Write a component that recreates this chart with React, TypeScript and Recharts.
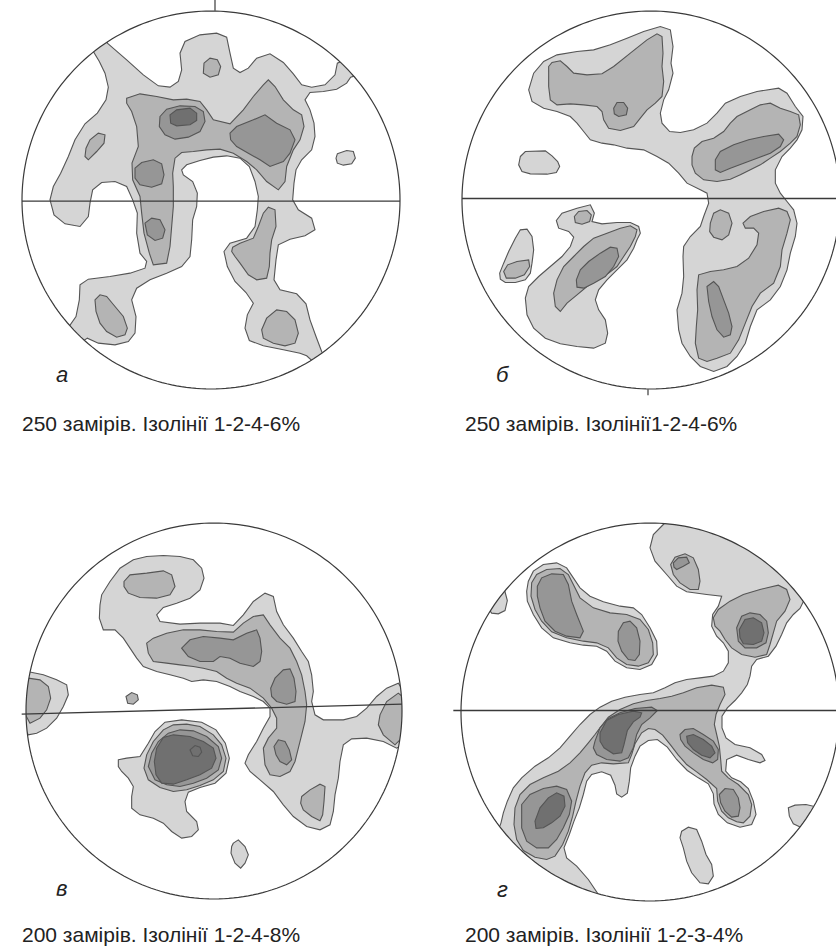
import { ScatterChart, Scatter, XAxis, YAxis } from "recharts";

// Contours traced in digitizer units (3 units = 1 px), y grows downward.
// Each panel keeps its own net centre and radius in the same units.

const NET_A = { cx: 633, cy: 600.5, r: 567 };
const NET_B = { cx: 692, cy: 600.5, r: 567 };
const NET_C = { cx: 642, cy: 588.5, r: 564 };
const NET_D = { cx: 690, cy: 592.5, r: 567 };

// ---- panel а ----
const A_LIGHT = [
  [322,130, 380,180, 430,225, 475,258, 510,262, 535,245, 545,210, 540,160, 555,125, 600,105, 650,100, 680,112, 690,160, 700,205, 720,218, 745,205, 770,175, 810,162, 850,188, 880,222, 905,255, 935,262, 975,255, 1005,225, 1012,190, 1045,175, 1075,225, 1052,232, 1040,250, 1010,268, 970,275, 930,278, 915,300, 930,330, 942,370, 945,410, 935,450, 905,480, 888,510, 882,550, 878,600, 895,630, 935,655, 945,690, 915,708, 870,718, 835,735, 828,780, 822,840, 840,870, 890,882, 918,912, 930,960, 948,1010, 965,1055, 985,1095, 950,1095, 920,1068, 900,1060, 850,1050, 790,1038, 748,1022, 735,985, 742,945, 760,910, 738,878, 705,845, 682,800, 672,755, 690,730, 740,715, 765,680, 772,630, 775,590, 765,545, 748,500, 720,475, 680,468, 640,472, 600,482, 560,495, 545,510, 550,525, 578,545, 592,580, 590,620, 578,660, 575,720, 570,770, 545,800, 500,820, 450,840, 410,865, 395,900, 408,950, 405,1000, 385,1025, 345,1035, 295,1030, 262,1015, 240,1030, 200,990, 228,950, 238,900, 240,855, 265,838, 330,830, 390,820, 435,805, 440,785, 420,760, 410,700, 412,640, 398,600, 380,560, 345,545, 305,548, 278,570, 270,610, 265,650, 240,680, 195,672, 162,645, 150,600, 160,560, 182,520, 205,470, 225,420, 255,372, 292,340, 318,300, 325,262, 315,220, 298,185, 280,155, 265,120, 320,100],
  [1012,462, 1040,452, 1060,455, 1066,475, 1055,492, 1030,496, 1012,490, 1008,475],
];
const A_MID = [
  [380,295, 420,282, 470,290, 520,300, 560,298, 600,305, 620,330, 640,360, 690,372, 730,330, 760,290, 790,255, 805,240, 825,260, 850,300, 880,330, 905,345, 912,380, 900,420, 880,450, 860,500, 855,545, 835,570, 800,545, 770,510, 740,485, 700,460, 660,448, 620,450, 580,455, 545,458, 525,475, 518,520, 520,560, 520,620, 515,680, 510,740, 500,790, 460,795, 448,760, 432,700, 425,640, 420,590, 398,540, 396,490, 415,440, 410,380, 395,335, 380,310],
  [612,190, 630,175, 652,180, 662,200, 655,225, 630,232, 610,220],
  [258,445, 270,420, 295,400, 315,405, 312,430, 290,455, 265,480, 255,470],
  [698,742, 720,730, 760,715, 775,680, 790,640, 805,622, 825,630, 828,680, 815,720, 810,760, 808,800, 800,835, 770,840, 745,825, 720,790, 705,770, 695,755],
  [785,990, 800,955, 830,930, 860,935, 885,960, 895,1000, 885,1030, 855,1038, 820,1030, 790,1015],
  [285,900, 300,885, 320,890, 345,920, 370,950, 382,985, 375,1005, 350,1012, 320,995, 300,970, 288,935],
];
const A_DARK = [
  [480,350, 500,328, 540,318, 585,320, 610,335, 615,365, 600,395, 565,412, 525,418, 495,405, 478,380],
  [690,400, 710,380, 760,360, 795,345, 830,370, 870,390, 885,420, 870,460, 850,485, 810,500, 780,480, 745,460, 710,440, 692,420],
  [405,505, 425,488, 460,480, 485,492, 492,525, 485,552, 455,562, 420,555, 405,535],
  [435,670, 455,655, 480,660, 495,690, 488,715, 465,722, 442,705],
];
const A_DARKEST = [
  [510,345, 530,330, 570,325, 590,340, 590,362, 570,375, 530,378, 512,370],
];
const A_AXIS = [66,604, 1200,604];
const A_TICK = [645,0, 645,33];

// ---- panel б ----
const B_LIGHT = [
  [325,270, 340,220, 370,185, 410,165, 470,155, 520,150, 570,135, 620,115, 670,95, 720,80, 750,90, 758,140, 752,190, 758,220, 745,270, 730,300, 720,340, 725,370, 748,395, 780,398, 820,390, 860,370, 890,340, 915,310, 960,290, 1010,275, 1075,265, 1100,280, 1125,320, 1148,350, 1145,390, 1130,420, 1110,445, 1085,470, 1065,510, 1065,550, 1080,580, 1100,605, 1120,630, 1130,670, 1125,710, 1110,760, 1100,810, 1080,860, 1050,900, 1010,930, 990,980, 975,1030, 950,1070, 920,1100, 880,1115, 840,1100, 810,1070, 785,1030, 775,990, 770,930, 785,880, 790,830, 788,770, 790,740, 810,710, 840,680, 850,650, 865,610, 860,580, 840,570, 800,550, 775,520, 745,490, 710,470, 670,450, 620,445, 580,435, 545,430, 510,420, 490,395, 470,370, 450,350, 410,335, 370,325, 335,305],
  [300,470, 315,455, 375,453, 395,468, 412,485, 418,500, 408,518, 380,523, 330,522, 305,515, 295,495],
  [408,662, 425,640, 470,625, 510,615, 522,640, 515,665, 545,672, 590,668, 630,668, 655,680, 660,700, 650,720, 640,745, 620,780, 590,810, 560,840, 535,870, 525,900, 535,930, 555,960, 562,1000, 555,1030, 520,1045, 470,1040, 420,1032, 375,1015, 340,985, 320,945, 315,895, 325,860, 355,830, 390,800, 425,770, 450,740, 460,712, 445,695, 415,685],
  [238,820, 250,790, 265,755, 285,715, 300,690, 320,688, 335,710, 340,750, 335,790, 330,820, 315,840, 285,848, 255,848, 240,838],
];
const B_MID = [
  [385,200, 395,188, 420,183, 440,200, 460,220, 500,225, 545,222, 580,200, 630,160, 680,120, 710,102, 725,110, 728,160, 725,200, 730,245, 725,290, 705,310, 680,330, 660,355, 640,380, 600,392, 565,385, 550,360, 545,335, 530,320, 490,315, 450,312, 410,315, 390,300, 385,260],
  [815,470, 822,445, 845,425, 880,415, 910,395, 930,370, 950,350, 990,330, 1020,315, 1050,310, 1080,325, 1110,335, 1135,345, 1140,375, 1130,410, 1110,430, 1080,455, 1050,475, 1020,495, 990,510, 960,525, 930,538, 890,545, 850,540, 825,520, 815,495],
  [968,670, 990,650, 1030,635, 1075,625, 1100,635, 1110,660, 1100,700, 1085,750, 1080,800, 1060,850, 1020,880, 995,920, 975,970, 955,1020, 930,1060, 890,1075, 860,1085, 835,1075, 825,1030, 828,980, 832,930, 830,870, 835,825, 870,815, 910,810, 950,800, 985,775, 1010,735, 1015,700, 1000,685, 975,685],
  [870,670, 880,640, 900,630, 925,640, 935,670, 925,705, 905,720, 880,712, 868,695],
  [400,880, 410,840, 430,800, 460,770, 490,740, 520,715, 560,700, 600,685, 630,678, 650,690, 645,710, 630,740, 610,770, 590,800, 565,820, 530,840, 500,860, 470,885, 440,910, 420,935, 405,920],
  [462,650, 475,635, 500,632, 513,645, 508,665, 485,673, 465,668],
  [250,815, 262,795, 290,785, 325,780, 328,800, 312,825, 285,835, 258,835],
];
const B_DARK = [
  [580,325, 590,308, 610,308, 622,325, 618,345, 595,350, 582,342],
  [885,480, 900,455, 940,435, 985,420, 1030,410, 1075,403, 1090,420, 1080,440, 1050,460, 1010,475, 970,490, 930,505, 900,518, 885,510],
  [860,860, 880,845, 895,860, 910,900, 925,940, 935,980, 930,1005, 910,1012, 890,990, 875,950, 865,905],
  [468,840, 480,810, 505,785, 540,760, 570,742, 590,745, 595,770, 580,800, 555,830, 520,850, 490,865, 470,862],
];
const B_AXIS = [125,596, 1260,596];
const B_TICK = [683,1168, 683,1186];

// ---- panel в ----
const C_LIGHT = [
  [300,270, 305,240, 330,200, 360,160, 400,135, 440,125, 490,122, 540,125, 580,135, 605,160, 612,190, 600,225, 570,250, 530,265, 490,278, 470,300, 480,320, 540,328, 600,325, 660,325, 700,332, 730,300, 760,260, 795,235, 820,245, 830,290, 850,330, 880,370, 905,410, 925,440, 935,480, 940,530, 935,560, 945,600, 970,615, 1030,615, 1070,605, 1100,580, 1130,545, 1160,520, 1195,505, 1230,560, 1225,680, 1190,700, 1150,680, 1100,670, 1055,672, 1030,690, 1020,740, 1015,790, 1005,840, 1000,890, 990,930, 960,945, 920,935, 880,905, 850,870, 820,830, 780,795, 750,770, 735,745, 745,720, 770,680, 790,640, 810,605, 810,580, 790,560, 760,545, 720,530, 690,515, 650,500, 610,495, 575,500, 550,490, 510,480, 470,470, 430,455, 410,430, 390,400, 370,370, 345,345, 310,345, 298,310],
  [82,470, 130,480, 170,495, 200,510, 205,540, 190,575, 170,610, 140,640, 110,655, 85,660, 50,600, 55,500],
  [355,735, 380,730, 420,725, 445,685, 465,650, 495,622, 545,615, 605,622, 648,645, 676,685, 688,730, 678,775, 645,805, 600,818, 565,832, 555,860, 560,890, 590,920, 595,945, 575,965, 545,970, 515,950, 490,925, 460,910, 420,900, 395,880, 395,845, 400,815, 385,790, 365,770, 355,755],
  [700,985, 715,975, 735,995, 745,1020, 735,1045, 722,1060, 705,1045, 693,1015, 695,995],
];
const C_MID = [
  [372,200, 390,180, 440,175, 490,168, 515,180, 525,215, 510,240, 470,250, 420,248, 385,235, 372,215],
  [440,385, 460,370, 500,355, 550,345, 600,345, 650,350, 700,352, 730,325, 760,305, 790,300, 810,330, 840,370, 870,400, 890,440, 905,480, 915,530, 920,570, 915,620, 905,660, 895,700, 885,740, 870,770, 840,785, 810,780, 795,750, 790,700, 805,670, 830,640, 830,610, 815,580, 790,550, 750,520, 710,505, 680,490, 650,470, 610,460, 580,455, 540,450, 500,445, 460,440, 445,415],
  [1195,535, 1160,560, 1140,600, 1135,630, 1150,660, 1185,690, 1225,650, 1225,560],
  [85,490, 120,495, 145,515, 152,550, 140,585, 120,610, 90,625, 55,560],
  [905,845, 930,825, 960,808, 975,815, 972,860, 968,900, 960,918, 935,905, 910,885, 902,865],
  [432,760, 440,720, 460,680, 490,645, 520,630, 560,628, 600,635, 640,660, 665,690, 678,730, 670,770, 640,795, 600,812, 560,825, 520,830, 480,818, 445,795],
  [378,545, 395,533, 412,540, 415,555, 400,568, 383,565],
];
const C_DARK = [
  [545,400, 570,375, 610,365, 660,370, 700,375, 740,355, 770,345, 780,370, 785,410, 780,440, 760,455, 720,445, 690,430, 660,425, 640,440, 600,440, 565,425],
  [812,520, 825,490, 850,465, 870,462, 882,490, 888,530, 885,560, 860,568, 830,560, 815,545],
  [822,695, 835,675, 855,680, 868,705, 875,735, 860,750, 840,740, 828,720],
  [445,755, 455,715, 475,680, 505,655, 540,645, 580,648, 620,665, 655,695, 665,730, 655,765, 620,790, 580,805, 540,815, 500,810, 465,795],
];
const C_DARKEST = [
  [470,700, 490,668, 520,660, 570,665, 610,680, 640,700, 648,730, 635,760, 600,780, 560,795, 520,808, 485,805, 468,780, 463,740],
  [570,705, 585,692, 600,697, 605,712, 595,725, 578,723],
];
const C_AXIS = [65,598, 1206,568];

// ---- panel г ----
const D_LIGHT = [
  [730,30, 700,60, 690,100, 705,140, 740,180, 770,215, 800,232, 860,240, 905,245, 895,275, 878,300, 875,335, 890,365, 910,385, 925,410, 925,445, 910,470, 880,485, 840,490, 800,495, 765,505, 735,520, 700,535, 660,540, 615,548, 575,560, 540,578, 510,600, 480,630, 450,665, 420,700, 385,730, 345,755, 305,790, 280,820, 262,860, 250,895, 243,925, 230,960, 330,1080, 500,1170, 535,1140, 505,1095, 470,1055, 440,1030, 432,1000, 448,960, 462,920, 478,880, 490,840, 500,800, 515,780, 545,772, 572,782, 585,812, 590,838, 605,848, 622,836, 628,800, 632,760, 645,725, 660,695, 685,678, 712,675, 742,698, 770,735, 802,768, 835,790, 865,808, 880,838, 882,868, 895,900, 922,925, 960,938, 995,930, 1008,900, 1000,860, 985,822, 962,802, 935,790, 917,770, 920,735, 950,722, 985,735, 1020,745, 1035,738, 1025,720, 990,700, 945,690, 918,670, 906,640, 906,605, 922,580, 945,558, 965,535, 982,510, 990,485, 995,455, 1010,435, 1045,425, 1068,395, 1085,360, 1100,325, 1120,300, 1140,282, 1180,200, 1000,60, 760,0],
  [254,228, 262,258, 255,288, 235,298, 215,296, 190,260, 230,215],
  [325,200, 340,170, 370,150, 410,145, 440,160, 460,190, 480,220, 510,245, 550,262, 600,275, 640,280, 665,300, 690,340, 710,380, 712,420, 695,450, 660,465, 620,460, 585,440, 560,410, 530,395, 490,392, 450,385, 400,370, 365,340, 340,300, 322,260, 320,230],
  [785,950, 805,938, 830,945, 845,980, 858,1020, 875,1050, 880,1085, 865,1108, 840,1105, 815,1075, 800,1040, 790,1000, 780,970],
  [1105,880, 1125,872, 1158,870, 1200,880, 1190,945, 1145,940, 1120,928, 1108,905],
];
const D_MID = [
  [752,150, 765,128, 795,118, 820,130, 835,165, 840,200, 835,225, 810,225, 780,205, 760,180],
  [880,310, 895,285, 930,260, 970,240, 1020,225, 1075,212, 1100,225, 1110,255, 1095,290, 1070,320, 1060,355, 1050,390, 1040,420, 1005,428, 965,420, 935,400, 915,375, 900,350, 885,335],
  [335,205, 350,180, 380,165, 420,162, 445,180, 460,210, 480,250, 520,280, 570,295, 620,300, 660,315, 685,345, 698,385, 700,420, 685,445, 655,455, 620,450, 590,430, 565,400, 530,385, 490,380, 440,370, 395,352, 365,320, 345,285, 333,245],
  [285,880, 300,840, 330,810, 370,790, 415,770, 450,745, 480,715, 505,685, 525,660, 540,640, 565,608, 600,585, 640,568, 680,558, 720,552, 755,545, 790,535, 830,520, 875,512, 910,518, 915,540, 900,570, 888,600, 883,630, 890,660, 898,695, 902,735, 905,770, 925,790, 955,810, 985,840, 995,870, 990,905, 970,925, 950,922, 925,910, 905,890, 893,860, 890,822, 860,795, 830,772, 800,750, 775,722, 752,692, 728,662, 705,645, 685,642, 665,655, 645,688, 635,720, 625,745, 580,748, 545,745, 515,752, 495,775, 480,815, 468,860, 458,905, 445,950, 428,990, 405,1025, 380,1035, 345,1028, 310,1008, 290,975, 282,930],
];
const D_DARK = [
  [760,145, 775,130, 800,128, 808,145, 790,155, 770,165, 762,158],
  [950,340, 965,305, 990,295, 1020,300, 1040,320, 1045,355, 1038,385, 1010,400, 975,400, 955,380],
  [352,215, 365,190, 395,178, 430,180, 445,210, 455,260, 470,300, 490,350, 480,370, 440,365, 405,350, 375,320, 360,280, 352,245],
  [595,350, 610,325, 630,320, 650,340, 660,380, 658,420, 645,438, 625,435, 605,410, 594,380],
  [305,870, 330,840, 370,822, 410,815, 440,825, 455,860, 448,900, 430,940, 410,975, 385,1000, 350,1000, 320,980, 305,940],
  [525,680, 540,640, 565,612, 600,595, 645,582, 695,578, 712,588, 690,610, 665,630, 650,660, 640,700, 625,730, 600,740, 560,735, 530,720, 520,700],
  [780,660, 795,645, 820,642, 850,660, 880,680, 895,705, 893,735, 878,745, 850,735, 820,715, 795,695, 782,675],
  [898,840, 915,822, 940,825, 955,850, 960,880, 955,905, 935,908, 915,890, 902,865],
];
const D_DARKEST = [
  [958,345, 975,315, 1000,310, 1025,325, 1032,355, 1025,380, 1000,390, 970,388, 960,370],
  [345,920, 360,880, 385,850, 410,835, 432,845, 435,875, 420,905, 395,925, 370,940, 348,942],
  [540,655, 560,618, 595,600, 640,590, 665,595, 660,608, 640,622, 622,648, 612,690, 605,715, 580,718, 552,700, 540,680],
  [800,665, 820,660, 850,675, 875,695, 885,715, 870,730, 845,722, 820,705, 803,685],
];
const D_AXIS = [100,588, 1300,588];

const LEVEL_FILLS = ["#d5d5d5", "#b4b4b4", "#969696", "#707070"];
const EDGE = "#555555";
const HALF = 615; // half-width of every panel's domain, digitizer units
const SIZE = 410;

type Net = { cx: number; cy: number; r: number };

const toNet = (flat: number[], net: Net) => {
  const out: { x: number; y: number }[] = [];
  for (let i = 0; i < flat.length; i += 2) {
    out.push({ x: flat[i] - net.cx, y: net.cy - flat[i + 1] });
  }
  return out;
};

const ring = (r: number, dir: number, start: number) => {
  const pts: { x: number; y: number }[] = [];
  for (let i = 0; i <= 240; i++) {
    const t = start + (dir * i * Math.PI * 2) / 240;
    pts.push({ x: r * Math.cos(t), y: r * Math.sin(t) });
  }
  return pts;
};

// white cover outside the net, with its seam at the bottom
const maskPoints = (r: number) => [
  { x: 0, y: -r },
  { x: 0, y: -HALF },
  { x: HALF, y: -HALF },
  { x: HALF, y: HALF },
  { x: -HALF, y: HALF },
  { x: -HALF, y: -HALF },
  { x: 0, y: -HALF },
  ...ring(r, -1, -Math.PI / 2),
];

const noDot = () => <g />;

interface PanelProps {
  net: Net;
  levels: number[][][];
  axis: number[];
  tick?: number[];
  left: number;
  top: number;
}

function Net({ net, levels, axis, tick, left, top }: PanelProps) {
  const polys: { data: { x: number; y: number }[]; fill: string }[] = [];
  levels.forEach((lvl, i) => lvl.forEach((p) => polys.push({ data: toNet(p, net), fill: LEVEL_FILLS[i] })));

  return (
    <div style={{ position: "absolute", left, top }}>
      <ScatterChart width={SIZE} height={SIZE} margin={{ top: 0, right: 0, bottom: 0, left: 0 }}>
        <XAxis type="number" dataKey="x" domain={[-HALF, HALF]} allowDataOverflow hide />
        <YAxis type="number" dataKey="y" domain={[-HALF, HALF]} allowDataOverflow hide />
        {polys.map((p, i) => (
          <Scatter
            key={"c" + i}
            data={p.data}
            line={{ fill: p.fill, stroke: EDGE, strokeWidth: 1.1 }}
            lineJointType="linearClosed"
            shape={noDot}
            legendType="none"
            isAnimationActive={false}
          />
        ))}
        <Scatter
          data={maskPoints(net.r)}
          line={{ fill: "#ffffff", stroke: "none" }}
          lineJointType="linearClosed"
          shape={noDot}
          legendType="none"
          isAnimationActive={false}
        />
        <Scatter
          data={ring(net.r, 1, 0)}
          line={{ fill: "none", stroke: "#3a3a3a", strokeWidth: 1.2 }}
          lineJointType="linear"
          shape={noDot}
          legendType="none"
          isAnimationActive={false}
        />
        <Scatter
          data={toNet(axis, net)}
          line={{ fill: "none", stroke: "#3a3a3a", strokeWidth: 1.3 }}
          lineJointType="linear"
          shape={noDot}
          legendType="none"
          isAnimationActive={false}
        />
        {tick && (
          <Scatter
            data={toNet(tick, net)}
            line={{ fill: "none", stroke: "#3a3a3a", strokeWidth: 1.2 }}
            lineJointType="linear"
            shape={noDot}
            legendType="none"
            isAnimationActive={false}
          />
        )}
      </ScatterChart>
    </div>
  );
}

const FONT = '"Liberation Sans", Arial, sans-serif';

const captionStyle = (left: number, top: number): React.CSSProperties => ({
  position: "absolute",
  left,
  top,
  fontFamily: FONT,
  fontSize: 21,
  lineHeight: "22px",
  color: "#222",
  whiteSpace: "nowrap",
});

const letterStyle = (left: number, top: number): React.CSSProperties => ({
  position: "absolute",
  left,
  top,
  fontFamily: FONT,
  fontStyle: "italic",
  fontSize: 22,
  lineHeight: "22px",
  color: "#222",
});

export default function App() {
  return (
    <div style={{ position: "absolute", left: 0, top: 0, width: 836, height: 947, overflow: "hidden", background: "#fff" }}>
      <Net net={NET_A} levels={[A_LIGHT, A_MID, A_DARK, A_DARKEST]} axis={A_AXIS} tick={A_TICK} left={6} top={-5} />
      <Net net={NET_B} levels={[B_LIGHT, B_MID, B_DARK]} axis={B_AXIS} tick={B_TICK} left={446} top={-5} />
      <Net net={NET_C} levels={[C_LIGHT, C_MID, C_DARK, C_DARKEST]} axis={C_AXIS} left={9} top={506} />
      <Net net={NET_D} levels={[D_LIGHT, D_MID, D_DARK, D_DARKEST]} axis={D_AXIS} left={445} top={507} />

      <div style={letterStyle(56, 364)}>а</div>
      <div style={letterStyle(496, 364)}>б</div>
      <div style={letterStyle(56, 878)}>в</div>
      <div style={letterStyle(497, 879)}>г</div>

      <div style={captionStyle(22, 413)}>250 замірів. Ізолінії 1-2-4-6%</div>
      <div style={captionStyle(465, 413)}>250 замірів. Ізолінії1-2-4-6%</div>
      <div style={captionStyle(22, 924)}>200 замірів. Ізолінії 1-2-4-8%</div>
      <div style={captionStyle(465, 924)}>200 замірів. Ізолінії 1-2-3-4%</div>
    </div>
  );
}
